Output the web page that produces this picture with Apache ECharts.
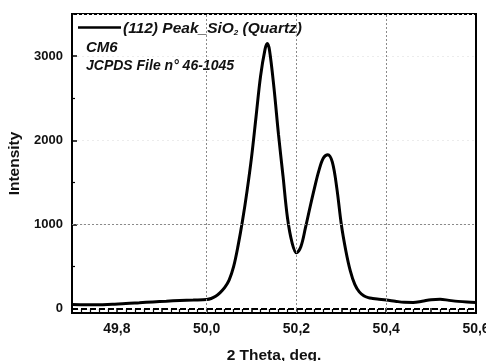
<!DOCTYPE html>
<html>
<head>
<meta charset="utf-8">
<script src="https://cdn.jsdelivr.net/npm/echarts@6/dist/echarts.min.js"></script>
<style>
html,body{margin:0;padding:0;background:#fff;}
#chart{width:486px;height:361px;}
</style>
</head>
<body>
<div id="chart"></div>
<script>
// 2 Theta (deg.) positions
var theta = [49.70, 49.73, 49.76, 49.79, 49.82, 49.85, 49.88, 49.91, 49.94, 49.97, 50.00, 50.01, 50.02, 50.03,
  50.04, 50.05, 50.06, 50.07, 50.08, 50.09, 50.10, 50.11, 50.12, 50.13, 50.135, 50.14, 50.15,
  50.16, 50.17, 50.18, 50.19, 50.20, 50.21, 50.22, 50.23, 50.24, 50.25, 50.26, 50.27, 50.28,
  50.29, 50.30, 50.31, 50.32, 50.33, 50.34, 50.35, 50.36, 50.37, 50.38, 50.40, 50.42, 50.44, 50.46,
  50.48, 50.50, 50.52, 50.54, 50.56, 50.58, 50.60];
// Intensity values
var intensity = [50, 48, 47, 55, 62, 72, 82, 90, 98, 104, 110, 122, 148, 192,
  250, 340, 500, 750, 1050, 1400, 1800, 2280, 2760, 3080, 3150, 3070, 2620,
  2070, 1580, 1080, 790, 665, 740, 960, 1200, 1430, 1640, 1790, 1830, 1740,
  1430, 1000, 690, 450, 290, 200, 155, 132, 122, 115, 105, 90, 77, 76,
  90, 108, 113, 100, 88, 80, 75];
var seriesName = '(112) Peak_SiO2 (Quartz)';
var xGridValues = [50.0, 50.2, 50.4];
var yGridValues = [1000];
var zeroLine = [0];

var data = theta.map(function (t, i) { return [t, intensity[i]]; });

var font = '"Liberation Sans", Arial, sans-serif';
var chart = echarts.init(document.getElementById('chart'));

var markData = xGridValues.map(function (v) {
  return { xAxis: v, lineStyle: { color: '#8a8a8a', width: 1, type: [2, 2] } };
}).concat(yGridValues.map(function (v) {
  return { yAxis: v, lineStyle: { color: '#8a8a8a', width: 1, type: [2, 2] } };
})).concat(zeroLine.map(function (v) {
  return { yAxis: v, lineStyle: { color: '#000', width: 2, type: [6, 3] } };
}));

chart.setOption({
  animation: false,
  backgroundColor: '#fff',
  grid: { left: 72, right: 10, top: 14, bottom: 48, show: true, borderColor: '#000', borderWidth: 2,
          backgroundColor: 'transparent', containLabel: false, outerBoundsMode: 'none' },
  xAxis: {
    type: 'value', min: 49.7, max: 50.6, interval: 0.1,
    name: '2 Theta, deg.', nameLocation: 'middle', nameGap: 35,
    nameTextStyle: { fontFamily: font, fontWeight: 'bold', fontSize: 15.5, color: '#111' },
    axisLine: { show: true, onZero: false, lineStyle: { color: '#000', width: 2 } },
    axisTick: { show: true, inside: true, length: 5, lineStyle: { color: '#000', width: 1.5 } },
    minorTick: { show: true, splitNumber: 5, length: 4, lineStyle: { color: '#000', width: 1.2 } },
    splitLine: { show: false },
    axisLabel: {
      margin: 9, fontFamily: font, fontWeight: 'bold', fontSize: 14, color: '#111',
      showMinLabel: false, hideOverlap: false,
      formatter: function (v) {
        var k = Math.round(v * 10);
        if (k % 2 !== 0) return '';
        return (k / 10).toFixed(1).replace('.', ',');
      }
    }
  },
  yAxis: {
    type: 'value', min: -50, max: 3500, splitNumber: 4,
    name: 'Intensity', nameLocation: 'middle', nameGap: 47, nameRotate: 90,
    nameTextStyle: { fontFamily: font, fontWeight: 'bold', fontSize: 15.5, color: '#111' },
    axisLine: { show: true, onZero: false, lineStyle: { color: '#000', width: 2 } },
    axisTick: { show: true, inside: true, length: 5, lineStyle: { color: '#000', width: 1.5 } },
    minorTick: { show: true, splitNumber: 2, length: 3, lineStyle: { color: '#000', width: 1.2 } },
    splitLine: { show: true, lineStyle: { color: '#ececec', width: 1, type: [2, 3] } },
    axisLabel: {
      margin: 9, fontFamily: font, fontWeight: 'bold', fontSize: 13, color: '#111',
      formatter: function (v) { return (Math.round(v) % 1000 === 0) ? String(Math.round(v)) : ''; }
    }
  },
  series: [{
    name: seriesName,
    type: 'line',
    data: data,
    smooth: 0.35,
    showSymbol: false,
    lineStyle: { color: '#000', width: 3 },
    markLine: { silent: true, symbol: 'none', label: { show: false }, data: markData }
  }],
  graphic: [
    { type: 'line', shape: { x1: 78, y1: 27.5, x2: 121, y2: 27.5 }, style: { stroke: '#000', lineWidth: 2.5 } },
    { type: 'text', left: 123, top: 20, style: {
        text: '{a|(112) Peak_SiO}{s|2}{a| (Quartz)}',
        rich: {
          a: { fontFamily: font, fontWeight: 'bold', fontStyle: 'italic', fontSize: 15.5, fill: '#111', lineHeight: 18 },
          s: { fontFamily: font, fontWeight: 'bold', fontStyle: 'italic', fontSize: 8, fill: '#111', lineHeight: 18, padding: [9, 0, 0, 0] }
        }
    } },
    { type: 'text', left: 86, top: 40, style: { text: 'CM6', fontFamily: font, fontWeight: 'bold', fontStyle: 'italic', fontSize: 15, fill: '#111' } },
    { type: 'text', left: 86, top: 59, style: { text: 'JCPDS File n° 46-1045', fontFamily: font, fontWeight: 'bold', fontStyle: 'italic', fontSize: 14, fill: '#111' } }
  ]
});
</script>
</body>
</html>
